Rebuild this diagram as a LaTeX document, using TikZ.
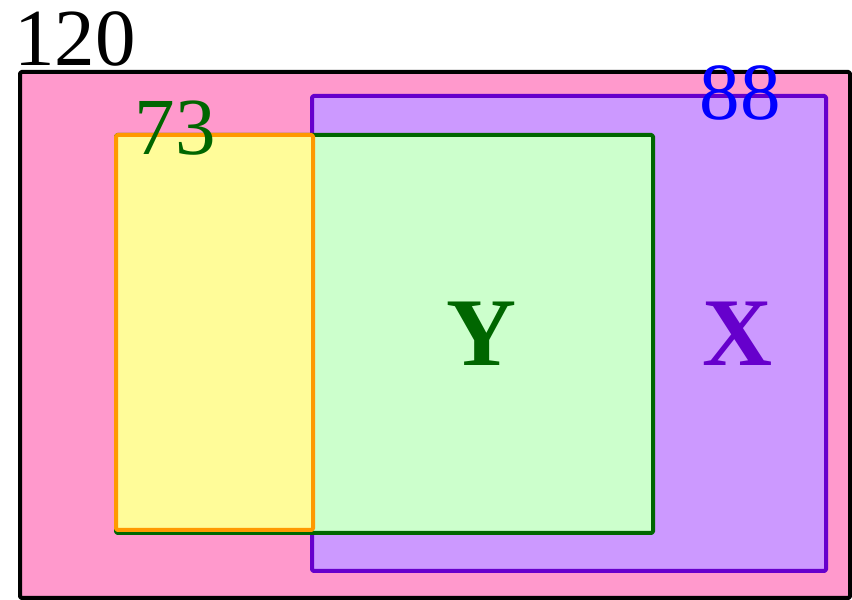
\documentclass[tikz,border=0pt]{standalone}
\usepackage{fontspec}
\setmainfont{Liberation Serif}
\definecolor{pinkfill}{HTML}{FF99CC}
\definecolor{purfill}{HTML}{CC99FF}
\definecolor{purline}{HTML}{6600CC}
\definecolor{grnfill}{HTML}{CCFFCC}
\definecolor{grnline}{HTML}{006600}
\definecolor{yelfill}{HTML}{FFFC99}
\definecolor{orgline}{HTML}{FF9900}
\begin{document}
\begin{tikzpicture}[x=1pt,y=1pt,
  setbox/.style={line width=4pt, line join=round, rounded corners=1.5pt},
  numlabel/.style={anchor=base, inner sep=0pt, font=\fontsize{81}{81}\selectfont},
  letlabel/.style={anchor=base, inner sep=0pt, font=\fontsize{97}{97}\selectfont\bfseries}]
\useasboundingbox (0,0) rectangle (852,600);
\draw[setbox, draw=black, fill=pinkfill] (20,2) rectangle (850,528);
\draw[setbox, draw=purline, fill=purfill] (312,29) rectangle (826,504);
\draw[setbox, draw=grnline, fill=grnfill] (116,67) rectangle (653,465);
\draw[setbox, draw=orgline, fill=yelfill] (116,70) rectangle (313,465);
\node[numlabel] (u) at (75,534) {120};
\node[numlabel, text=grnline] (a) at (175,445) {73};
\node[numlabel, text=blue] (b) at (740,480) {88};
\node[letlabel, text=grnline] (y) at (482,234) {Y};
\node[letlabel, text=purline] (x) at (738,234) {X};
\end{tikzpicture}
\end{document}
